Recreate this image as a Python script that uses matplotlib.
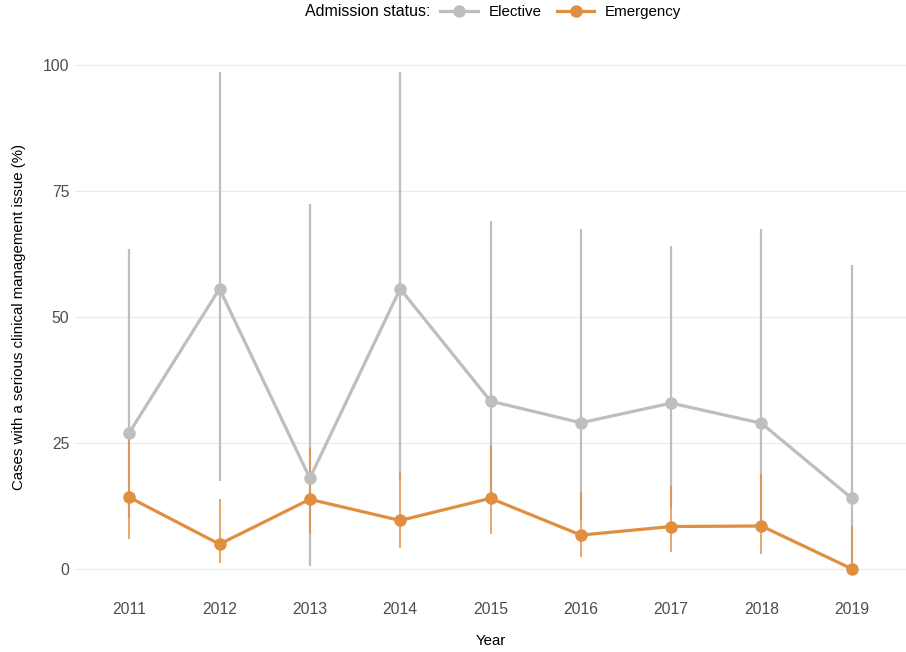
import matplotlib
matplotlib.use("Agg")
import matplotlib.pyplot as plt
from matplotlib.lines import Line2D

plt.rcParams['font.family'] = ['Liberation Sans', 'DejaVu Sans']

years = [2011, 2012, 2013, 2014, 2015, 2016, 2017, 2018, 2019]

elective = [27.0, 55.6, 18.0, 55.6, 33.3, 29.0, 32.9, 28.9, 14.0]
elective_lo = [10.0, 17.4, 0.5, 17.4, 14.0, 9.6, 12.0, 9.6, 0.4]
elective_hi = [63.6, 98.6, 72.5, 98.6, 69.0, 67.5, 64.0, 67.5, 60.3]

emergency = [14.2, 4.9, 13.8, 9.6, 14.0, 6.7, 8.4, 8.5, 0.0]
emergency_lo = [6.0, 1.2, 7.0, 4.2, 7.0, 2.4, 3.4, 2.9, 0.0]
emergency_hi = [26.0, 13.9, 24.0, 19.2, 24.5, 15.2, 16.5, 18.9, 8.6]

series_names = ["Elective", "Emergency"]
colors = ["#BEBEBE", "#E08E3F"]

W, H = 906, 652
fig = plt.figure(figsize=(W / 100, H / 100), dpi=100)

# panel placement in pixels
left_px, right_px = 75, 906
top_px, bottom_px = 40, 594
ax = fig.add_axes([left_px / W, 1 - bottom_px / H,
                   (right_px - left_px) / W, (bottom_px - top_px) / H])

# confidence intervals
ax.vlines(years, elective_lo, elective_hi, color=colors[0], lw=1.6, zorder=1)
ax.vlines(years, emergency_lo, emergency_hi, color=colors[1], lw=1.2,
          alpha=0.9, zorder=2)

# point estimates
ax.plot(years, elective, color=colors[0], lw=2.3, marker='o', ms=8,
        zorder=3, solid_capstyle='round')
ax.plot(years, emergency, color=colors[1], lw=2.3, marker='o', ms=8,
        zorder=4, solid_capstyle='round')

ax.set_xlim(2010.4, 2019.6)
ax.set_ylim(-5, 105)
ax.set_xticks(years)
ax.set_xticklabels([str(y) for y in years])
ax.set_yticks([0, 25, 50, 75, 100])

ax.grid(axis='y', color='#EBEBEB', lw=0.9)
ax.grid(axis='x', visible=False)
ax.set_axisbelow(True)
for s in ax.spines.values():
    s.set_visible(False)
ax.tick_params(length=0, labelsize=11.3, colors='#4D4D4D')
ax.tick_params(axis='y', pad=4)
ax.tick_params(axis='x', pad=6)

ax.set_xlabel("Year", fontsize=10.8, color='black', labelpad=12)
ax.set_ylabel("Cases with a serious clinical management issue (%)",
              fontsize=10.8, color='black', labelpad=12)

# legend along the top
fig.text(305 / W, 1 - 11 / H, "Admission status:", fontsize=11.5,
         ha='left', va='center', color='black')
handles = [Line2D([0], [0], color=c, lw=2.3, marker='o', ms=8)
           for c in colors]
fig.legend(handles, series_names, loc='center left',
           bbox_to_anchor=(440 / W, 1 - 12 / H), ncol=2, frameon=False,
           fontsize=10.9, handlelength=2.5, columnspacing=1.0,
           handletextpad=0.7, borderaxespad=0, borderpad=0)

fig.savefig("out.png", dpi=100, facecolor='white')
